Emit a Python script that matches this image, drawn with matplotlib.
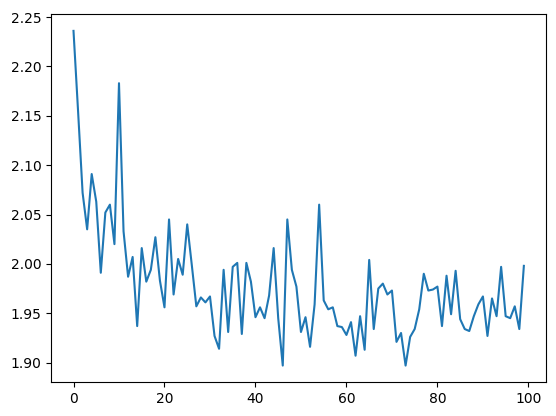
import matplotlib
matplotlib.use("Agg")
import matplotlib.pyplot as plt

# values, one per step 0..99
steps = list(range(100))
loss = [
    2.236, 2.155, 2.072, 2.035, 2.091, 2.063, 1.991, 2.052, 2.060, 2.020,
    2.183, 2.033, 1.987, 2.007, 1.937, 2.016, 1.982, 1.994, 2.027, 1.983,
    1.956, 2.045, 1.969, 2.005, 1.989, 2.040, 1.999, 1.957, 1.966, 1.961,
    1.967, 1.927, 1.914, 1.994, 1.931, 1.997, 2.001, 1.929, 2.001, 1.982,
    1.946, 1.956, 1.945, 1.968, 2.016, 1.945, 1.897, 2.045, 1.994, 1.977,
    1.931, 1.946, 1.916, 1.959, 2.060, 1.963, 1.954, 1.956, 1.937, 1.936,
    1.928, 1.941, 1.907, 1.947, 1.913, 2.004, 1.934, 1.975, 1.980, 1.969,
    1.973, 1.921, 1.930, 1.897, 1.926, 1.934, 1.954, 1.990, 1.973, 1.974,
    1.977, 1.937, 1.988, 1.949, 1.993, 1.944, 1.934, 1.932, 1.947, 1.959,
    1.967, 1.927, 1.965, 1.947, 1.997, 1.947, 1.945, 1.957, 1.934, 1.998,
]

fig = plt.figure(figsize=(5.56, 4.16), dpi=100)
ax = fig.add_axes([0.0917, 0.081, 0.891, 0.885])
ax.plot(steps, loss)

fig.savefig("out.png", dpi=100)
